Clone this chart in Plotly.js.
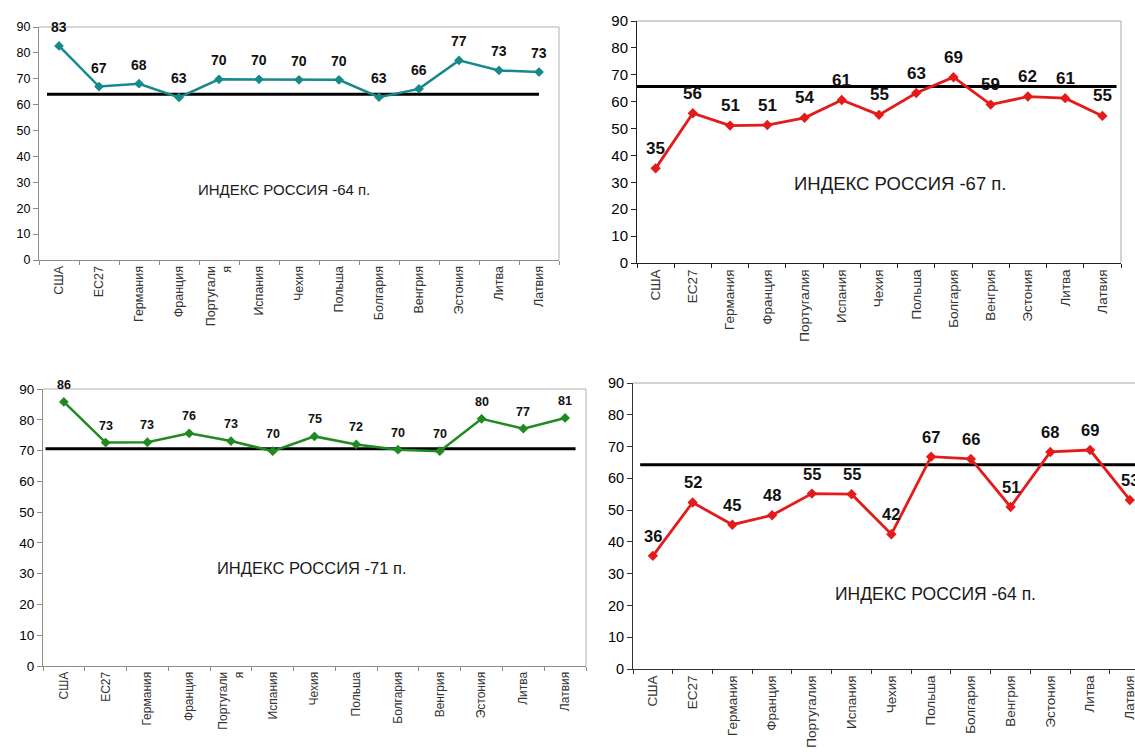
<!DOCTYPE html>
<html>
<head>
<meta charset="utf-8">
<script src="https://cdn.plot.ly/plotly-3.0.1.min.js"></script>
<style>
  html, body { margin: 0; padding: 0; background: #ffffff; }
  #chart { width: 1135px; height: 755px; }
</style>
</head>
<body>
<div id="chart"></div>
<script>
// ---- data ----
const categories = ['США', 'ЕС27', 'Германия', 'Франция', 'Португалия', 'Испания', 'Чехия', 'Польша', 'Болгария', 'Венгрия', 'Эстония', 'Литва', 'Латвия'];
const categoriesWrapped = ['США', 'ЕС27', 'Германия', 'Франция', 'Португали<br>я', 'Испания', 'Чехия', 'Польша', 'Болгария', 'Венгрия', 'Эстония', 'Литва', 'Латвия'];

const values1 = [82.7, 67.0, 68.1, 62.8, 69.8, 69.8, 69.6, 69.6, 62.9, 66.1, 77.1, 73.2, 72.6];
const values2 = [35.2, 55.7, 51.1, 51.3, 54.0, 60.6, 55.1, 63.2, 69.1, 58.9, 61.9, 61.3, 54.7];
const values3 = [85.8, 72.6, 72.7, 75.6, 73.1, 69.8, 74.6, 72.0, 70.3, 69.8, 80.3, 77.1, 80.6];
const values4 = [35.6, 52.4, 45.4, 48.4, 55.2, 55.0, 42.4, 66.8, 66.1, 51.0, 68.3, 68.9, 53.2];

const russiaLevel = [64.0, 65.6, 70.6, 64.3];   // height of the black reference line
const russiaIndex = [64, 67, 71, 64];           // value written in the caption
const yTicks = [0, 10, 20, 30, 40, 50, 60, 70, 80, 90];

// ---- styling per panel ----
const W = 1135, H = 755;
const panels = [
  { vals: values1, cats: categoriesWrapped, color: '#17898a', lw: 2.5, ms: 7.5,
    xd: [39, 559], yd: [27, 260], xr: [-0.5, 12.5], axis: '#8c8c8c', border: '#b0b0b0',
    tickFs: 12.5, xFs: 12.5, valFs: 14, valShift: 19, idxFs: 15, idxPos: [284, 189],
    ref: [-0.3, 12.0], showRight: true },
  { vals: values2, cats: categories, color: '#e41b1b', lw: 2.8, ms: 8,
    xd: [637, 1121], yd: [21, 263], xr: [-0.5, 12.5], axis: '#222222', border: '#a8a8a8',
    tickFs: 15, xFs: 13.5, valFs: 17, valShift: 20, idxFs: 18.5, idxPos: [900, 183],
    ref: [-0.52, 12.38], showRight: true },
  { vals: values3, cats: categoriesWrapped, color: '#1f8a20', lw: 2.5, ms: 7.5,
    xd: [43, 586], yd: [389, 666], xr: [-0.5, 12.5], axis: '#8c8c8c', border: '#b0b0b0',
    tickFs: 13.5, xFs: 12, valFs: 12.5, valShift: 17, idxFs: 16.5, idxPos: [312, 568],
    ref: [-0.44, 12.25], showRight: true },
  { vals: values4, cats: categories, color: '#e41b1b', lw: 2.8, ms: 8,
    xd: [633, 1135], yd: [383, 669], xr: [-0.5, 12.13], axis: '#333333', border: '#a8a8a8',
    tickFs: 14.5, xFs: 13.5, valFs: 16.5, valShift: 20, idxFs: 17.5, idxPos: [935, 594],
    ref: [-0.32, 12.6], showRight: false }
];

const FONT = 'Arial, "Liberation Sans", sans-serif';
const traces = [];
const shapes = [];
const annotations = [];
const layout = {
  width: W, height: H, autosize: false,
  margin: { l: 0, r: 0, t: 0, b: 0, pad: 0 },
  paper_bgcolor: '#ffffff', plot_bgcolor: '#ffffff',
  showlegend: false,
  font: { family: FONT, color: '#111' }
};

panels.forEach((p, i) => {
  const n = i === 0 ? '' : String(i + 1);
  const xa = 'x' + n, ya = 'y' + n;

  layout['xaxis' + n] = {
    domain: [p.xd[0] / W, p.xd[1] / W],
    anchor: ya, type: 'category', range: p.xr,
    tickson: 'boundaries', ticks: 'outside', ticklen: 4, tickwidth: 1, tickcolor: p.axis,
    showline: true, linecolor: p.axis, linewidth: 1,
    showgrid: false, zeroline: false, tickangle: -90,
    tickfont: { family: FONT, size: p.xFs, color: '#333' },
    fixedrange: true
  };
  layout['yaxis' + n] = {
    domain: [1 - p.yd[1] / H, 1 - p.yd[0] / H],
    anchor: xa, range: [0, 90], tickmode: 'array', tickvals: yTicks,
    ticks: 'outside', ticklen: 5, tickwidth: 1, tickcolor: p.axis,
    showline: true, linecolor: p.axis, linewidth: 1,
    showgrid: false, zeroline: false,
    tickfont: { family: FONT, size: p.tickFs, color: '#000' },
    fixedrange: true
  };

  // light frame (top and right)
  shapes.push({ type: 'line', xref: xa + ' domain', yref: ya + ' domain', x0: 0, x1: 1, y0: 1, y1: 1,
    line: { color: p.border, width: 1 }, layer: 'below' });
  if (p.showRight) {
    shapes.push({ type: 'line', xref: xa + ' domain', yref: ya + ' domain', x0: 1, x1: 1, y0: 0, y1: 1,
      line: { color: p.border, width: 1 }, layer: 'below' });
  }
  // Russia reference line
  shapes.push({ type: 'line', xref: xa, yref: ya, x0: p.ref[0], x1: p.ref[1],
    y0: russiaLevel[i], y1: russiaLevel[i], line: { color: '#000', width: 3 }, layer: 'below' });

  traces.push({
    type: 'scatter', mode: 'lines+markers', x: p.cats, y: p.vals, xaxis: xa, yaxis: ya,
    line: { color: p.color, width: p.lw },
    marker: { symbol: 'diamond', size: p.ms, color: p.color },
    cliponaxis: false, hoverinfo: 'skip'
  });

  // value labels
  p.vals.forEach((v, k) => {
    annotations.push({
      xref: xa, yref: ya, x: p.cats[k], y: v, yshift: p.valShift,
      text: v.toFixed(0), showarrow: false,
      font: { family: FONT, size: p.valFs, color: '#111', weight: 'bold' }
    });
  });

  // caption
  annotations.push({
    xref: 'paper', yref: 'paper', x: p.idxPos[0] / W, y: 1 - p.idxPos[1] / H,
    xanchor: 'center', yanchor: 'middle', showarrow: false,
    text: 'ИНДЕКС РОССИЯ -' + russiaIndex[i] + ' п.',
    font: { family: FONT, size: p.idxFs, color: '#1a1a1a' }
  });
});

layout.shapes = shapes;
layout.annotations = annotations;

Plotly.newPlot('chart', traces, layout, { displayModeBar: false, staticPlot: true });
</script>
</body>
</html>
